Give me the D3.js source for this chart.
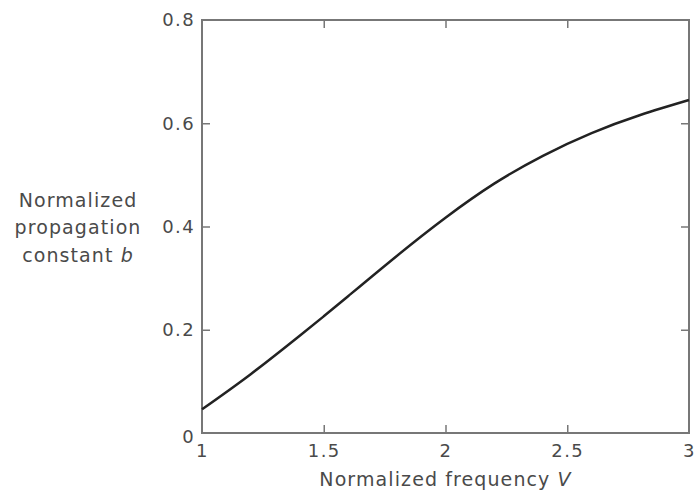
<!DOCTYPE html>
<html>
<head>
<meta charset="utf-8">
<script src="https://cdn.jsdelivr.net/npm/d3@7"></script>
<style>
  body { margin: 0; background: #fff; }
  text { font-family: "DejaVu Sans", Verdana, sans-serif; fill: #555; }
</style>
</head>
<body>
<div id="chart"></div>
<script>
// values
const vValues = [1.0, 1.2, 1.4, 1.5, 1.6, 1.8, 2.0, 2.2, 2.4, 2.6, 2.8, 3.0];
const bValues = [0.046, 0.114, 0.188, 0.226, 0.265, 0.343, 0.417, 0.483, 0.537, 0.581, 0.616, 0.645];
const xTicks = [1, 1.5, 2, 2.5, 3];
const yTicks = [0, 0.2, 0.4, 0.6, 0.8];

const margin = { top: 20, right: 7, bottom: 57, left: 202 };
const width = 696 - margin.left - margin.right;
const height = 490 - margin.top - margin.bottom;

const svg = d3.select("#chart").append("svg")
    .attr("width", 696)
    .attr("height", 490)
    .append("g")
    .attr("transform", `translate(${margin.left}, ${margin.top})`);

const x = d3.scaleLinear().domain([1, 3]).range([0, width]);
const y = d3.scaleLinear().domain([0, 0.8]).range([height, 0]);

const axisColor = "#777";
const textColor = "#4a4a4a";

// inward ticks on all four sides
function styleAxis(g) {
    g.select(".domain").remove();
    g.selectAll(".tick line").attr("stroke", axisColor).attr("stroke-width", 1.5);
    g.selectAll(".tick text")
        .attr("font-size", 18)
        .attr("font-family", "DejaVu Sans, Verdana, sans-serif")
        .attr("letter-spacing", 1.4)
        .style("fill", textColor);
}

svg.append("g")
    .attr("transform", `translate(0, ${height})`)
    .call(d3.axisBottom(x).tickValues(xTicks).tickSize(-8).tickPadding(11).tickFormat(d3.format("")))
    .call(styleAxis)
    .call(g => g.selectAll(".tick line").filter(d => d === 1 || d === 3).remove());

svg.append("g")
    .call(d3.axisLeft(y).tickValues(yTicks).tickSize(-8).tickPadding(7).tickFormat(d => d === 0 ? "0" : d3.format(".1f")(d)))
    .call(styleAxis)
    .call(g => g.selectAll(".tick line").filter(d => d === 0 || d === 0.8).remove())
    .call(g => g.selectAll(".tick").filter(d => d === 0).select("text").attr("dy", "0.5em"));

svg.append("g")
    .call(d3.axisTop(x).tickValues([1.5, 2, 2.5]).tickSize(-8).tickFormat(""))
    .call(styleAxis);

svg.append("g")
    .attr("transform", `translate(${width}, 0)`)
    .call(d3.axisRight(y).tickValues([0.2, 0.4, 0.6]).tickSize(-8).tickFormat(""))
    .call(styleAxis);

// frame
svg.append("rect")
    .attr("x", 0).attr("y", 0)
    .attr("width", width).attr("height", height)
    .attr("fill", "none")
    .attr("stroke", axisColor)
    .attr("stroke-width", 2);

// curve
const points = vValues.map((v, i) => ({ v: v, b: bValues[i] }));
const line = d3.line()
    .x(d => x(d.v))
    .y(d => y(d.b))
    .curve(d3.curveNatural);

svg.append("path")
    .datum(points)
    .attr("fill", "none")
    .attr("stroke", "#222")
    .attr("stroke-width", 2.5)
    .attr("d", line);

// axis titles
svg.append("text")
    .attr("x", width / 2)
    .attr("y", height + 53)
    .attr("text-anchor", "middle")
    .attr("font-size", 19)
    .attr("letter-spacing", 1.1)
    .style("fill", textColor)
    .html('Normalized frequency <tspan font-style="italic">V</tspan>');

const yLabel = svg.append("text")
    .attr("text-anchor", "middle")
    .attr("font-size", 19)
    .attr("letter-spacing", 1.1)
    .style("fill", textColor)
    .attr("transform", `translate(${78 - margin.left}, 0)`);
yLabel.append("tspan").attr("x", 0).attr("y", 187).text("Normalized");
yLabel.append("tspan").attr("x", 0).attr("y", 214).text("propagation");
yLabel.append("tspan").attr("x", 0).attr("y", 242).html('constant <tspan font-style="italic">b</tspan>');
</script>
</body>
</html>
